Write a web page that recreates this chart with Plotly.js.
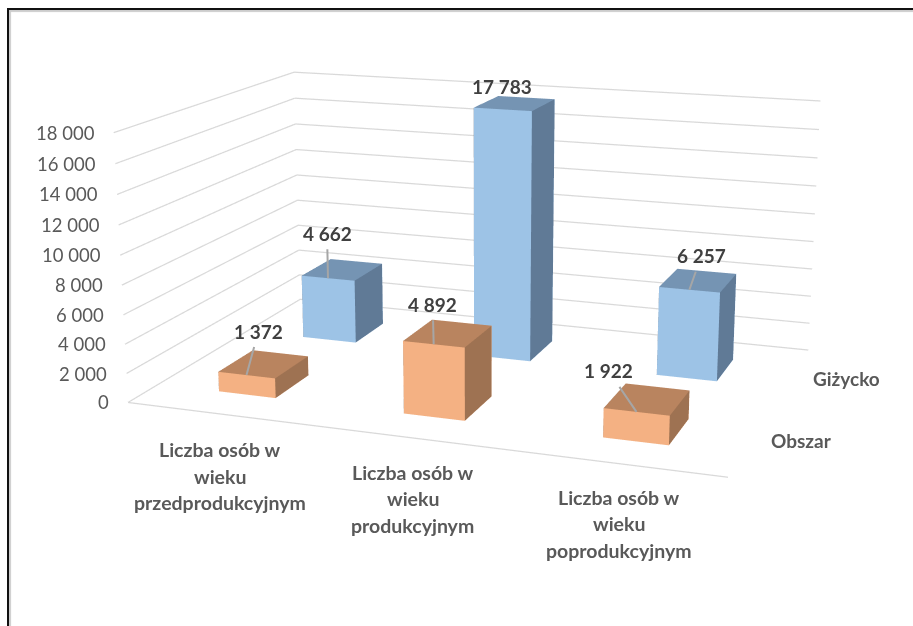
<!DOCTYPE html>
<html><head><meta charset="utf-8"><script src="https://cdn.plot.ly/plotly-3.0.1.min.js"></script>
<style>html,body{margin:0;padding:0;background:#fff;overflow:hidden;width:913px;height:626px}#c{position:absolute;left:0;top:-480px}#frame{position:absolute;left:7px;top:8px;width:920px;height:640px;border-left:2px solid #111;border-top:2px solid #111;box-shadow:inset 2px 2px 1px #ccc;pointer-events:none}</style></head><body><div id="c"></div><div id="frame"></div>
<script>
var categories=[['Liczba osób w','wieku','przedprodukcyjnym'],['Liczba osób w','wieku','produkcyjnym'],['Liczba osób w','wieku','poprodukcyjnym']];
var seriesNames=['Obszar','Giżycko'];
var obszar=[1372,4892,1922];
var gizycko=[4662,17783,6257];
var valueLabels=[['1 372','4 892','1 922'],['4 662','17 783','6 257']];
var tickVals=[0,2000,4000,6000,8000,10000,12000,14000,16000,18000];
var tickText=['0','2 000','4 000','6 000','8 000','10 000','12 000','14 000','16 000','18 000'];

var barW=0.3143,barD=0.3868;
var seriesColors=[{f:'#F4B183',t:'#B9845F',s:'#9E7252'},{f:'#9DC3E6',t:'#7594B3',s:'#607A96'}];
var labelOffsets=[[[12,-44],[-1,-40],[-28,-41]],[[-1,-45],[0,-23],[12,-34]]];
var catOffsets=[[1,36],[2,35],[1,34]];
var catLineStep=26.3;
var seriesOffsets=[[50,0],[55,-1]];

var grey='#595959',dark='#404040',FONT='Lato, "Open Sans", sans-serif';
var all=[obszar,gizycko];
function mesh(j){
 var X=[],Y=[],Z=[],I=[],J=[],K=[],C=[],col=seriesColors[j];
 all[j].forEach(function(v,c){
  var b=X.length,x0=c+.5-barW/2,x1=c+.5+barW/2,y0=j+.5-barD/2,y1=j+.5+barD/2;
  [[x0,y0,0],[x1,y0,0],[x1,y1,0],[x0,y1,0],[x0,y0,v],[x1,y0,v],[x1,y1,v],[x0,y1,v]].forEach(function(q){X.push(q[0]);Y.push(q[1]);Z.push(q[2])});
  [[0,1,5,col.f],[0,5,4,col.f],[1,2,6,col.s],[1,6,5,col.s],[4,5,6,col.t],[4,6,7,col.t],[3,2,6,col.f],[3,6,7,col.f],[0,3,7,col.s],[0,7,4,col.s],[0,1,2,col.f],[0,2,3,col.f]].forEach(function(t){I.push(b+t[0]);J.push(b+t[1]);K.push(b+t[2]);C.push(t[3])});
 });
 return {type:'mesh3d',name:seriesNames[j],x:X,y:Y,z:Z,i:I,j:J,k:K,facecolor:C,flatshading:true,showscale:false,hoverinfo:'skip',
  lighting:{ambient:1,diffuse:0,specular:0,roughness:1,fresnel:0},lightposition:{x:0,y:0,z:1000}};
}
var gx=[],gy=[],gz=[];
tickVals.forEach(function(t){gx.push(0,0,3,null);gy.push(0,2,2,null);gz.push(t,t,t,null)});
gx.push(0,3);gy.push(0,0);gz.push(0,0);
var grid={type:'scatter3d',mode:'lines',x:gx,y:gy,z:gz,connectgaps:false,line:{color:'#d9d9d9',width:2.5},hoverinfo:'skip',showlegend:false};

var ann=[];
tickVals.forEach(function(t,i){ann.push({x:0,y:0,z:t,text:tickText[i],showarrow:false,xanchor:'right',yanchor:'middle',xshift:-17,font:{family:FONT,size:18.5,color:grey}})});
categories.forEach(function(lines,c){lines.forEach(function(s,l){
 ann.push({x:c+.5,y:0,z:0,text:'<b>'+s+'</b>',showarrow:false,xanchor:'center',yanchor:'middle',xshift:catOffsets[c][0],yshift:-catOffsets[c][1]-l*catLineStep,font:{family:FONT,size:19.5,color:grey}});
})});
seriesNames.forEach(function(s,j){ann.push({x:3,y:j+.5,z:0,text:'<b>'+s+'</b>',showarrow:false,xanchor:'center',yanchor:'middle',xshift:seriesOffsets[j][0],yshift:seriesOffsets[j][1],font:{family:FONT,size:19,color:grey}})});
all.forEach(function(arr,j){arr.forEach(function(v,c){
 var o=labelOffsets[j][c],noLine=(o[0]===0&&o[1]===-23);
 var a={x:c+.5,y:j+.5-barD/2,z:v,text:'<b>'+valueLabels[j][c]+'</b>',font:{family:FONT,size:19,color:dark}};
 if(noLine){a.showarrow=false;a.yshift=-o[1];a.xshift=-1;a.xanchor='center';a.yanchor='middle'}
 else{a.showarrow=true;a.ax=o[0];a.ay=o[1];a.arrowhead=0;a.arrowwidth=2;a.arrowcolor='#a6a6a6';a.standoff=0;a.borderpad=4}
 ann.push(a);
})});
var hid={showgrid:false,showline:false,zeroline:false,showticklabels:false,ticks:'',showbackground:false,showspikes:false,title:{text:''}};
var layout={width:922,height:1532,margin:{l:0,r:0,t:0,b:0,pad:0},paper_bgcolor:'rgba(0,0,0,0)',showlegend:false,
 scene:{domain:{x:[0,1],y:[0,1]},bgcolor:'rgba(0,0,0,0)',aspectmode:'manual',aspectratio:{x:2.2243,y:1.4824,z:1},
  camera:{eye:{x:2.2551,y:-6.3331,z:1.6869},center:{x:0.5002,y:-1.5869,z:0.3064},up:{x:-0.1810,y:0.4995,z:1},projection:{type:'perspective'}},
  xaxis:Object.assign({range:[0,3]},hid),yaxis:Object.assign({range:[0,2]},hid),zaxis:Object.assign({range:[0,18000]},hid),annotations:ann}};
Plotly.newPlot('c',[grid,mesh(0),mesh(1)],layout,{displayModeBar:false});
</script></body></html>
